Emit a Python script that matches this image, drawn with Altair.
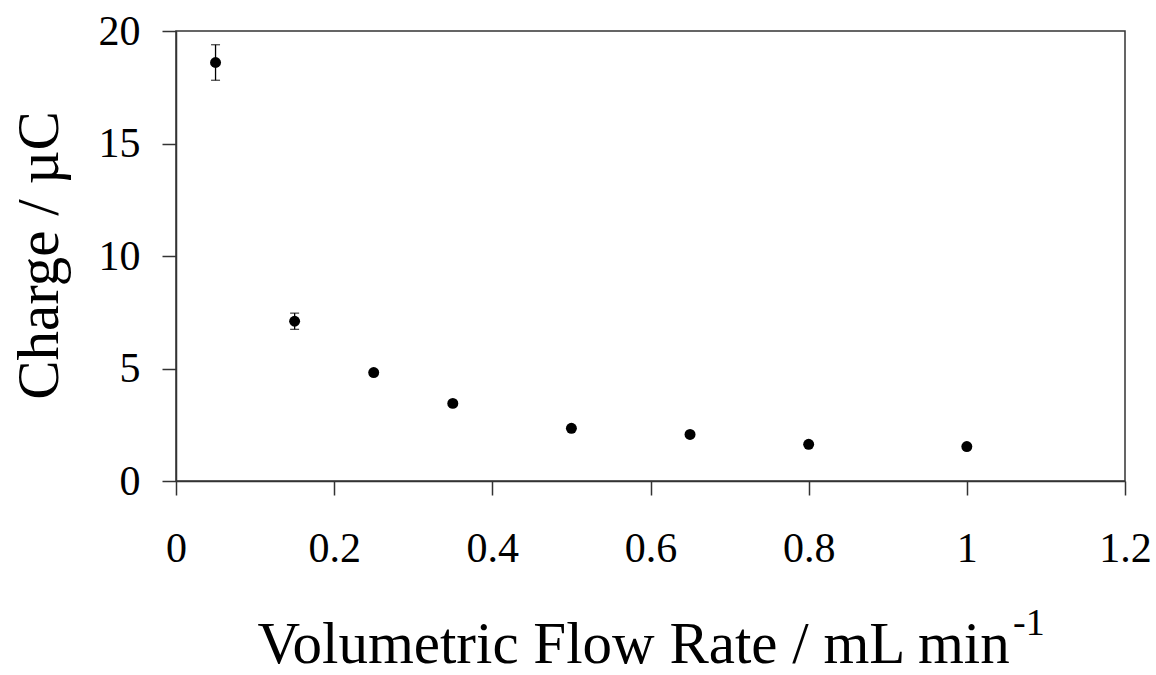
import altair as alt
import pandas as pd

flow_rate = [0.05, 0.15, 0.25, 0.35, 0.50, 0.65, 0.80, 1.00]
charge = [18.6, 7.1, 4.82, 3.45, 2.34, 2.07, 1.63, 1.53]
charge_err = [0.79, 0.36, 0.10, 0.06, 0.05, 0.05, 0.05, 0.05]
x_ticks = [0, 0.2, 0.4, 0.6, 0.8, 1.0, 1.2]
y_ticks = [0, 5, 10, 15, 20]

df = pd.DataFrame({
    "flow": flow_rate,
    "charge": charge,
    "lo": [c - e for c, e in zip(charge, charge_err)],
    "hi": [c + e for c, e in zip(charge, charge_err)],
})

FONT = "Liberation Serif"
AX = "#333333"

x = alt.X("flow:Q", scale=alt.Scale(domain=[0, 1.2], nice=False),
          axis=alt.Axis(values=x_ticks, format="~g", grid=False,
                        title="Volumetric Flow Rate / mL min",
                        titleX=81, titleY=181, titleAlign="left",
                        titleBaseline="alphabetic",
                        tickSize=14, labelPadding=33))
y = alt.Y("charge:Q", scale=alt.Scale(domain=[0, 20], nice=False),
          axis=alt.Axis(values=y_ticks, grid=False, title="Charge / µC",
                        titleX=-119, titleY=224, titleAngle=270,
                        titleAlign="center", titleBaseline="alphabetic",
                        tickSize=14, labelPadding=22))

base = alt.Chart(df)

bars = base.mark_rule(color="black", strokeWidth=1.3).encode(
    x=x, y="lo:Q", y2="hi:Q")
caps_lo = base.mark_tick(color="black", orient="horizontal", size=9,
                         thickness=1.3).encode(x="flow:Q", y="lo:Q")
caps_hi = base.mark_tick(color="black", orient="horizontal", size=9,
                         thickness=1.3).encode(x="flow:Q", y="hi:Q")
pts = base.mark_point(filled=True, shape="circle", size=120, color="black",
                      opacity=1).encode(x="flow:Q", y=y)

sup = alt.Chart(pd.DataFrame({"t": ["-1"]})).mark_text(
    font=FONT, fontSize=38, align="left", baseline="alphabetic",
    color="black", clip=False).encode(
    text="t:N", x=alt.value(837), y=alt.value(604))

chart = alt.layer(bars, caps_lo, caps_hi, pts, sup).properties(
    width=949, height=450,
    autosize=alt.AutoSizeParams(type="none"),
    padding={"left": 176, "top": 31, "right": 31, "bottom": 194},
    background="white",
).configure_view(
    stroke=AX, strokeWidth=1.5
).configure_axis(
    labelFont=FONT, titleFont=FONT, labelFontSize=42, titleFontSize=59,
    labelColor="black", titleColor="black", titleFontWeight="normal",
    domainColor=AX, tickColor=AX, domainWidth=1.5, tickWidth=1.5,
    labelFlush=False, labelOverlap=False,
)

chart.save("out.html", embed_options={"renderer": "svg", "actions": False})
